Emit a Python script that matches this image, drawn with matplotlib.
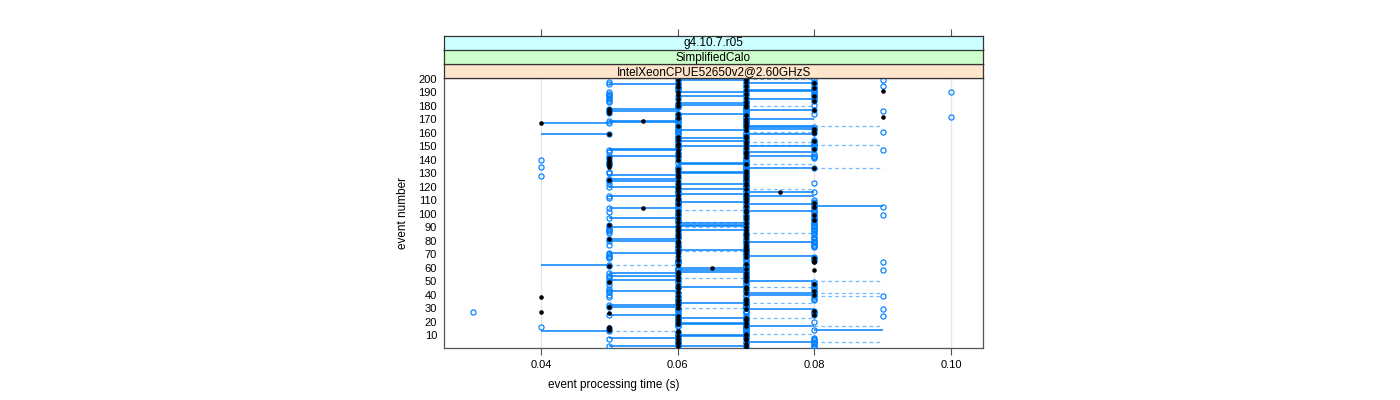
import matplotlib
matplotlib.use("Agg")
import matplotlib.pyplot as plt

plt.rcParams["font.family"] = ["Liberation Sans", "DejaVu Sans"]

# per-event times in hundredths of a second, event 1 first
run_a = ("6566665666" "6655546666" "6666563666" "5566666565" "6555665656"
         "5655656666" "5566665555" "5666665665" "5666655555" "6566665666"
         "5665666666" "6556666665" "6565556465" "5666455554" "5656655666"
         "6666666656" "6666665656" "6666555566" "6655555555" "6666656566")
run_b = ("7767767776" "7677776767" "6777677767" "7767777677" "6777767776"
         "7677767767" "7776777677" "6777767777" "7767776767" "6777677776"
         "7767777677" "6777767767" "7677767777" "6777677676" "7767777677"
         "6777767776" "7677777676" "7776777767" "6777676777" "7767776777")
run_c = ("8888888877" "7778777778" "7779888897" "7777788898" "8888888887"
         "7777777977" "7779888877" "7777888888" "8887888888" "8888888898"
         "8888988888" "7777787777" "7787777777" "7778777777" "8888779888"
         "8888877778" "9888777777" "7778798777" "8778888888" "8888988898")
median_t = ("7676676767" "7665557676" "7676854876" "5676767468" "7687676857"
            "6767676876" "5678868767" "6767767676" "5767676767" "6576876786"
            "7676876876" "7676776766" "7676576767" "6768557556" "5767676876"
            "7678676758" "8787674767" "6976558576" "7678678676" "9786768767")
# medians that fall between two bins
median_fix = {169: 0.055, 116: 0.075, 104: 0.055, 60: 0.065}
# slow outliers at 0.10 s
far_event = [190, 172]
far_time = [0.10, 0.10]

# segments: event, from (hundredths of a second), each one bin wide
solid_ev = [199, 197, 196, 192, 191, 190, 187, 185, 182, 181, 178, 177, 176, 174,
            170, 169, 168, 167, 165, 164, 163, 162, 159, 159, 156, 154, 150, 150,
            148, 147, 146, 143, 143, 138, 137, 134, 131, 130, 129, 126, 124, 122,
            120, 118, 116, 115, 113, 113, 109, 107, 106, 104, 102, 97, 93, 92, 91,
            90, 88, 81, 80, 79, 73, 71, 69, 62, 60, 58, 57, 56, 54, 51, 50, 46,
            43, 41, 40, 34, 32, 31, 29, 25, 23, 19, 18, 17, 14, 13, 10, 9, 8, 5,
            2, 2]
solid_lo = [6, 7, 5, 7, 7, 6, 6, 7, 6, 6, 5, 7, 5, 6,
            7, 5, 5, 4, 7, 7, 7, 6, 4, 7, 6, 6, 7, 6,
            5, 5, 7, 5, 7, 6, 6, 7, 6, 6, 5, 5, 5, 6,
            5, 6, 7, 6, 5, 7, 6, 7, 8, 5, 7, 5, 6, 6, 6,
            5, 6, 5, 5, 7, 6, 5, 7, 4, 6, 6, 6, 5, 5, 5, 7, 6,
            5, 7, 7, 6, 5, 5, 7, 5, 6, 6, 6, 7, 8, 4, 6, 6, 5, 7,
            5, 6]
dashed_ev = [200, 180, 165, 161, 153, 151, 151, 137, 134, 118, 103, 94, 90, 86,
             72, 62, 52, 50, 46, 41, 39, 34, 30, 23, 17, 13, 11, 5]
dashed_lo = [7, 7, 8, 7, 7, 8, 7, 7, 8, 7, 6, 6, 6, 7,
             6, 5, 6, 8, 7, 8, 8, 7, 6, 7, 8, 5, 7, 8]

BLUE = "#0080ff"

events = list(range(1, len(run_a) + 1))
ta = [int(c) / 100 for c in run_a]
tb = [int(c) / 100 for c in run_b]
tc = [int(c) / 100 for c in run_c]
tm = [median_fix.get(e, int(c) / 100) for e, c in zip(events, median_t)]

fig = plt.figure(figsize=(14, 4), dpi=100)
ax = fig.add_axes([444 / 1400, 52 / 400, 539 / 1400, 270 / 400])
ax.set_xlim(0.0258, 0.1047)
ax.set_ylim(0.4, 200.7)

for x in [0.04, 0.06, 0.08, 0.10]:
    ax.axvline(x, color="#e6e6e6", lw=0.9, zorder=0)

ax.hlines(solid_ev, [v / 100 for v in solid_lo], [v / 100 + 0.01 for v in solid_lo],
          color=BLUE, lw=1.1, zorder=2)
ax.hlines(dashed_ev, [v / 100 for v in dashed_lo], [v / 100 + 0.01 for v in dashed_lo],
          color=BLUE, lw=0.9, alpha=0.55, linestyles=(0, (3, 2.5)), zorder=2)

for t in (ta, tb, tc):
    ax.plot(t, events, "o", ms=3.7, mfc="none", mec=BLUE, mew=0.85, zorder=3)
ax.plot(far_time, far_event, "o", ms=3.7, mfc="none", mec=BLUE, mew=0.85, zorder=3)
ax.plot(tm, events, "o", ms=3.3, color="black", mec="black", mew=0, zorder=4)

ax.set_xticks([0.04, 0.06, 0.08, 0.10])
ax.set_xticklabels(["0.04", "0.06", "0.08", "0.10"])
ax.set_yticks(range(10, 201, 10))
ax.tick_params(axis="x", direction="out", length=5, color="#555555",
               labelsize=8, pad=4)
ax.tick_params(axis="y", length=0, labelsize=8, pad=5)
for s in ax.spines.values():
    s.set_color("#555555")
    s.set_linewidth(0.9)

fig.text(614 / 1400, 1 - 385 / 400, "event processing time (s)",
         ha="center", va="center", fontsize=8.5)
fig.text(403 / 1400, 1 - 213 / 400, "event number", ha="center", va="center",
         rotation=90, fontsize=8.5)

# lattice-style strips, bottom to top
strips = [("IntelXeonCPUE52650v2@2.60GHzS", "#ffe5cc", 64.3, 78.3),
          ("SimplifiedCalo", "#ccffcc", 49.5, 64.3),
          ("g4.10.7.r05", "#ccffff", 35.5, 49.5)]
for label, col, top, bot in strips:
    sax = fig.add_axes([444 / 1400, 1 - bot / 400, 539 / 1400, (bot - top) / 400])
    sax.set_facecolor(col)
    sax.set_xlim(ax.get_xlim())
    sax.set_yticks([])
    sax.set_xticks([])
    for s in sax.spines.values():
        s.set_color("#333333")
        s.set_linewidth(0.9)
    sax.text(0.5, 0.45, label, transform=sax.transAxes, ha="center",
             va="center", fontsize=8.5)
    if label == "g4.10.7.r05":
        sax.set_xticks([0.04, 0.06, 0.08, 0.10])
        sax.tick_params(axis="x", top=True, bottom=False, labeltop=False,
                        labelbottom=False, direction="out", length=5,
                        color="#555555")

fig.savefig("out.png", dpi=100)
